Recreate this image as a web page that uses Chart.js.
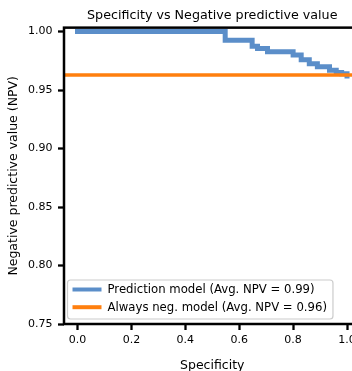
<!DOCTYPE html>
<html>
<head>
<meta charset="utf-8">
<script src="https://cdn.jsdelivr.net/npm/chart.js@4/dist/chart.umd.min.js"></script>
<style>
  html, body { margin: 0; padding: 0; background: #fff; overflow: hidden; }
  #wrap { width: 352px; height: 371px; overflow: hidden; }
</style>
</head>
<body>
<div id="wrap"><canvas id="npvChart" width="372" height="380"></canvas></div>
<script>
// prediction model curve (step plot)
const specificity = [0, 0.548, 0.648, 0.668, 0.705, 0.800, 0.830, 0.860, 0.890, 0.935, 0.960, 0.980, 1.0];
const npv = [1.0, 0.9926, 0.9875, 0.9855, 0.9828, 0.980, 0.976, 0.9725, 0.970, 0.967, 0.965, 0.964, 0.962];
// always-negative baseline, spans the whole x range
const baselineSpec = [-0.05, 1.05];
const baselineNpv = [0.963, 0.963];
const xTicks = [0, 0.2, 0.4, 0.6, 0.8, 1.0];
const yTicks = [0.75, 0.8, 0.85, 0.9, 0.95, 1.0];
const seriesLabels = ['Prediction model (Avg. NPV = 0.99)', 'Always neg. model (Avg. NPV = 0.96)'];

Chart.defaults.font.family = '"DejaVu Sans", sans-serif';
Chart.defaults.color = '#000';

const toPoints = (xs, ys) => xs.map((x, i) => ({ x, y: ys[i] }));

const frame = {
  id: 'frame',
  afterDatasetsDraw(chart) {
    const { ctx, chartArea: a } = chart;
    ctx.save();
    ctx.strokeStyle = '#000';
    ctx.lineWidth = 2.5;
    ctx.strokeRect(a.left, a.top, a.right - a.left, a.bottom - a.top);
    ctx.restore();
  },
};

const legendBox = {
  id: 'legendBox',
  afterDraw(chart) {
    const { ctx, chartArea } = chart;
    ctx.save();
    ctx.font = '11.7px "DejaVu Sans"';
    const textW = Math.max(...chart.data.datasets.map(ds => ctx.measureText(ds.label).width));
    const left = chartArea.left + 3.5;
    const h = 39;
    const top = chartArea.bottom - 5 - h;
    const w = 40 + textW + 6;
    ctx.fillStyle = 'rgba(255,255,255,0.8)';
    ctx.strokeStyle = '#cccccc';
    ctx.lineWidth = 1.2;
    ctx.beginPath();
    ctx.roundRect(left, top, w, h, 3);
    ctx.fill();
    ctx.stroke();
    chart.data.datasets.forEach((ds, i) => {
      const y = top + 9.5 + i * 17.7;
      ctx.strokeStyle = ds.borderColor;
      ctx.lineWidth = 4;
      ctx.beginPath();
      ctx.moveTo(left + 5, y);
      ctx.lineTo(left + 34, y);
      ctx.stroke();
      ctx.fillStyle = '#000';
      ctx.textBaseline = 'middle';
      ctx.fillText(ds.label, left + 40, y + 0.5);
    });
    ctx.restore();
  },
};

new Chart(document.getElementById('npvChart'), {
  type: 'line',
  data: {
    datasets: [
      {
        label: seriesLabels[0],
        data: toPoints(specificity, npv),
        borderColor: '#5b8ec9',
        borderWidth: 5,
        borderCapStyle: 'square',
        stepped: true,
        pointRadius: 0,
        fill: false,
        order: 1,
      },
      {
        label: seriesLabels[1],
        data: toPoints(baselineSpec, baselineNpv),
        borderColor: '#ff7f0e',
        borderWidth: 3.5,
        pointRadius: 0,
        fill: false,
        order: 0,
      },
    ],
  },
  options: {
    responsive: false,
    animation: false,
    layout: { padding: { left: 0, right: 11.5, top: 0, bottom: 0 } },
    plugins: {
      legend: { display: false },
      tooltip: { enabled: false },
      title: {
        display: true,
        text: 'Specificity vs Negative predictive value',
        fullSize: false,
        color: '#000',
        font: { size: 12.7, weight: 'normal' },
        padding: { top: 8, bottom: 4.4 },
      },
    },
    scales: {
      x: {
        type: 'linear',
        min: -0.05,
        max: 1.05,
        afterBuildTicks: s => { s.ticks = xTicks.map(v => ({ value: v })); },
        afterFit: s => { s.height = 56; },
        border: { display: false },
        grid: { drawOnChartArea: false, drawTicks: true, tickLength: 6, tickWidth: 2.3, tickColor: '#000' },
        ticks: { padding: 4, font: { size: 11 }, maxRotation: 0, autoSkip: false, callback: v => v.toFixed(1) },
        title: { display: true, text: 'Specificity', font: { size: 12.5 }, padding: { top: 0, bottom: 7 } },
      },
      y: {
        type: 'linear',
        min: 0.75,
        max: 1.0034,
        afterBuildTicks: s => { s.ticks = yTicks.map(v => ({ value: v })); },
        afterFit: s => { s.width = 64; },
        border: { display: false },
        grid: { drawOnChartArea: false, drawTicks: true, tickLength: 6, tickWidth: 2.3, tickColor: '#000' },
        ticks: { padding: 5.5, font: { size: 11 }, autoSkip: false, callback: v => v.toFixed(2) },
        title: { display: true, text: 'Negative predictive value (NPV)', font: { size: 12.5 }, padding: { top: 6, bottom: 0 } },
      },
    },
  },
  plugins: [frame, legendBox],
});
</script>
</body>
</html>
